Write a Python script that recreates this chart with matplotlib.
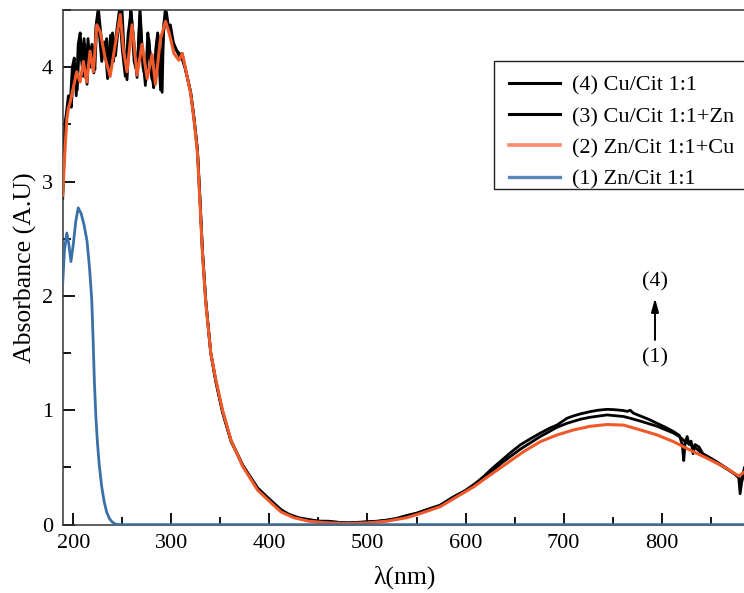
import matplotlib
matplotlib.use("Agg")
import matplotlib.pyplot as plt
from matplotlib.lines import Line2D
from matplotlib.patches import Rectangle
from matplotlib.ticker import MultipleLocator

plt.rcParams['font.family'] = ['Liberation Serif', 'DejaVu Serif']
plt.rcParams['mathtext.fontset'] = 'stix'

# ---------------- data ----------------
# (1) Zn/Cit 1:1
wl1 = [189.2, 191, 193.4, 195.5, 197.6, 200, 202.5, 205, 208, 211, 214, 216.5,
       218.8, 220.2, 221.5, 223, 224.6, 226.5, 229, 231.5, 234, 237, 240, 243,
       246, 300, 400, 500, 600, 700, 800, 890]
a1 = [2.11, 2.40, 2.55, 2.45, 2.30, 2.45, 2.65, 2.77, 2.72, 2.62, 2.48, 2.25,
      1.97, 1.62, 1.25, 0.95, 0.72, 0.52, 0.33, 0.20, 0.11, 0.05, 0.02, 0.005,
      0.0, 0.0, 0.0, 0.0, 0.0, 0.0, 0.0, 0.0]

# (2) Zn/Cit 1:1+Cu
wl2 = [189.2, 190.5, 192, 193.5, 195, 197, 200, 203.5, 206.9, 210.3, 213.7, 217.1,
       220.5, 224, 227.4, 232.5, 237.6, 242.8, 247.9, 251.3, 254.8, 259.9, 265,
       270.2, 275.3, 280.4, 283.8, 288.9, 294.1, 297, 299.2, 302.6, 307.7, 311.2,
       314.6, 319.7, 323.1, 326.6, 329.2, 331.7, 335.1, 340.2, 345.3, 352.2, 360.7,
       372.7, 388.1, 401.7, 412, 425, 440, 460, 480, 500, 520, 540, 555, 574.2,
       591.2, 608.2, 625.2, 642.2, 659.2, 676.2, 693.3, 710.2, 727.2, 744.3, 761.2,
       778.3, 795.3, 812.2, 829.3, 846.3, 863.3, 878.6, 884.4, 890]
a2 = [2.88, 3.10, 3.35, 3.55, 3.64, 3.70, 3.82, 3.96, 3.87, 4.05, 3.87, 4.14,
      3.96, 4.37, 4.31, 4.08, 3.92, 4.20, 4.46, 4.14, 3.96, 4.37, 3.93,
      4.20, 3.90, 4.11, 3.85, 4.25, 4.40, 4.32, 4.25, 4.12, 4.06, 4.12,
      3.98, 3.77, 3.54, 3.25, 2.81, 2.37, 1.94, 1.50, 1.27, 1.00, 0.74,
      0.51, 0.30, 0.19, 0.11, 0.06, 0.03, 0.015, 0.01, 0.015, 0.03, 0.06, 0.10, 0.157,
      0.244, 0.33, 0.434, 0.536, 0.638, 0.725, 0.784, 0.828, 0.86, 0.875, 0.870,
      0.828, 0.784, 0.725, 0.65, 0.58, 0.507, 0.425, 0.46, 0.50]

# (3) Cu/Cit 1:1+Zn
wl3 = [189.2, 190.5, 192, 194, 196, 198, 200, 202, 204, 206, 208, 210, 212, 214,
       216, 218, 220, 222, 224, 226, 229, 232, 235, 238, 241, 244, 247, 250, 253,
       256, 259, 262, 265, 268, 271, 274, 277, 280, 283, 286, 289, 292, 295, 298,
       302, 306, 310, 314, 319.7, 323.1, 326.6, 329.2, 331.7, 335.1, 340.2, 345.3,
       352.2, 360.7, 372.7, 388.1, 401.7, 412, 420, 430, 440, 450, 460, 470, 480,
       490, 500, 510, 520, 530, 540, 550, 560, 574, 587, 600, 618, 637, 655.8,
       676.2, 693.3, 703.5, 717, 727.2, 744.3, 761.2, 768, 778.3, 795.3, 812.2,
       818, 822, 825, 830, 836, 846, 863, 878.6, 881, 884.4, 890]
a3 = [2.90, 3.25, 3.45, 3.62, 3.72, 3.65, 3.95, 4.02, 3.80, 4.18, 4.10, 3.92,
      4.20, 3.85, 4.18, 4.00, 4.15, 3.98, 4.40, 4.35, 4.05, 4.22, 3.90, 4.28,
      4.05, 4.30, 4.50, 4.15, 3.92, 4.30, 4.48, 4.05, 3.95, 4.45, 4.00, 3.88,
      4.25, 3.90, 3.86, 4.28, 3.80, 4.30, 4.48, 4.30, 4.20, 4.14, 4.10, 3.99,
      3.78, 3.55, 3.27, 2.84, 2.39, 1.95, 1.50, 1.26, 0.99, 0.74, 0.52, 0.31,
      0.20, 0.12, 0.085, 0.055, 0.04, 0.03, 0.025, 0.02, 0.015, 0.018, 0.022,
      0.028, 0.038, 0.05, 0.075, 0.095, 0.125, 0.16, 0.23, 0.29, 0.40, 0.54,
      0.659, 0.77, 0.851, 0.886, 0.921, 0.939, 0.959, 0.945, 0.93, 0.905, 0.86,
      0.80, 0.77, 0.74, 0.72, 0.70, 0.66, 0.59, 0.505, 0.42, 0.36, 0.45, 0.50]

# (4) Cu/Cit 1:1
wl4 = [189.2, 190.5, 191.5, 193, 195, 197, 199, 201, 203, 205, 207, 209, 211,
       213, 215, 217, 219, 221, 223, 225.5, 228, 231, 234, 237, 240, 243, 246,
       249.6, 252, 254.8, 257, 258.5, 261, 263, 265, 268, 270, 273.5, 276, 278,
       280, 282, 284, 286, 288, 290.6, 292, 294, 296, 299, 302, 305, 308, 311,
       314, 319.7, 323.1, 326.6, 329.2, 331.7, 335.1, 340.2, 345.3, 352.2, 360.7,
       372.7, 388.1, 401.7, 412, 420, 430, 440, 450, 460, 470, 480, 490, 500, 510,
       520, 530, 540, 550, 560, 574, 587, 600, 610, 618.4, 627, 637.1, 646, 655.8,
       666, 676.2, 685, 693.3, 703.5, 710, 717, 727.2, 735, 744.3, 752, 761.2,
       765, 768, 771, 778.3, 787, 795.3, 804, 812.2, 818, 821, 822.5, 824, 826,
       828, 830, 832, 834, 838, 842, 846.3, 855, 863.3, 872, 878.6, 880, 882,
       884.4, 890]
a4 = [2.85, 3.20, 3.51, 3.60, 3.75, 3.70, 4.00, 4.08, 3.75, 4.20, 4.30, 4.05,
      4.25, 3.90, 4.25, 4.05, 4.20, 3.95, 4.35, 4.52, 4.30, 4.10, 4.25, 3.95,
      4.30, 4.10, 4.35, 4.52, 4.10, 3.89, 4.25, 4.52, 4.30, 4.10, 3.91, 4.52,
      4.20, 3.84, 4.30, 4.15, 3.95, 3.82, 4.15, 4.30, 4.20, 3.78, 4.35, 4.52,
      4.35, 4.37, 4.22, 4.15, 4.10, 4.12, 4.00, 3.78, 3.56, 3.28, 2.85, 2.40,
      1.96, 1.50, 1.25, 0.98, 0.73, 0.52, 0.32, 0.21, 0.13, 0.09, 0.06, 0.045,
      0.03, 0.03, 0.02, 0.015, 0.02, 0.025, 0.03, 0.04, 0.055, 0.08, 0.10, 0.13,
      0.17, 0.24, 0.30, 0.36, 0.42, 0.49, 0.565, 0.63, 0.697, 0.75, 0.80, 0.84,
      0.871, 0.93, 0.95, 0.968, 0.988, 1.0, 1.008, 1.005, 0.997, 0.99, 1.0,
      0.975, 0.95, 0.92, 0.886, 0.85, 0.813, 0.78, 0.70, 0.56, 0.72, 0.77, 0.70,
      0.73, 0.62, 0.70, 0.68, 0.62, 0.60, 0.555, 0.51, 0.46, 0.41, 0.27, 0.40,
      0.50, 0.52]

labels = ["(4) Cu/Cit 1:1", "(3) Cu/Cit 1:1+Zn", "(2) Zn/Cit 1:1+Cu", "(1) Zn/Cit 1:1"]
x_ticks = [200, 300, 400, 500, 600, 700, 800]
y_ticks = [0, 1, 2, 3, 4]

# ---------------- figure ----------------
W, H = 744, 593
fig = plt.figure(figsize=(W / 100, H / 100), dpi=100)
ax_l, ax_r, ax_t, ax_b = 62.7, 746.0, 10.0, 524.6
ax = fig.add_axes([ax_l / W, (H - ax_b) / H, (ax_r - ax_l) / W, (ax_b - ax_t) / H])

c_black = '#000000'
c_orange = '#f05a2a'
c_blue = '#3a70a8'

ax.plot(wl4, a4, color=c_black, lw=2.0, zorder=2)
ax.plot(wl3, a3, color=c_black, lw=2.0, zorder=2)
ax.plot(wl2, a2, color=c_orange, lw=2.2, zorder=3)
ax.plot(wl1, a1, color=c_blue, lw=2.0, zorder=4)

ax.set_xticks(x_ticks)
ax.set_yticks(y_ticks)
ax.xaxis.set_minor_locator(MultipleLocator(50))
ax.yaxis.set_minor_locator(MultipleLocator(0.5))
ax.set_xlim(189.2, 886)
ax.set_ylim(0, 4.5)
ax.tick_params(which='both', direction='in', top=False, right=False,
               labelsize=16, width=1.3, pad=7)
ax.tick_params(which='major', length=8.5)
ax.tick_params(which='minor', length=5.5)
for s in ax.spines.values():
    s.set_linewidth(1.1)
    s.set_color('#333333')

ax.set_xlabel('λ(nm)', fontsize=18.5, labelpad=9)
ax.set_ylabel('Absorbance (A.U)', fontsize=18.5, labelpad=3.5)

# legend frame (drawn as a box so its margins match the reference)
axw, axh = ax_r - ax_l, ax_b - ax_t
fx0, fy_top, fy_bot = 494, 61, 189
frame = Rectangle(((fx0 - ax_l) / axw, (ax_b - fy_bot) / axh), 1.0,
                  (fy_bot - fy_top) / axh, transform=ax.transAxes,
                  facecolor='white', edgecolor='#222222', lw=1.0,
                  clip_on=False, zorder=5)
ax.add_patch(frame)

handles = [Line2D([], [], color='#000000', lw=2.2),
           Line2D([], [], color='#000000', lw=2.2),
           Line2D([], [], color='#ff8a6c', lw=2.6),
           Line2D([], [], color='#5a88bb', lw=2.4)]
lx = (496.8 - ax_l) / axw
ly = (ax_b - 63) / axh
leg = ax.legend(handles, labels, loc='upper left', bbox_to_anchor=(lx, ly),
                borderaxespad=0, fontsize=16, frameon=False,
                handlelength=2.3, handletextpad=0.55, labelspacing=0.48,
                borderpad=0.55)
leg.set_zorder(6)

# annotation arrow (1) -> (4)
ax.annotate('', xy=(793.2, 1.98), xytext=(793.2, 1.615),
            arrowprops=dict(arrowstyle='-|>,head_length=0.8,head_width=0.22',
                            color='black', lw=1.4, shrinkA=0, shrinkB=0))
ax.text(793.2, 2.125, '(4)', fontsize=16, ha='center', va='center')
ax.text(793.2, 1.455, '(1)', fontsize=16, ha='center', va='center')

fig.savefig('out.png', dpi=100)
